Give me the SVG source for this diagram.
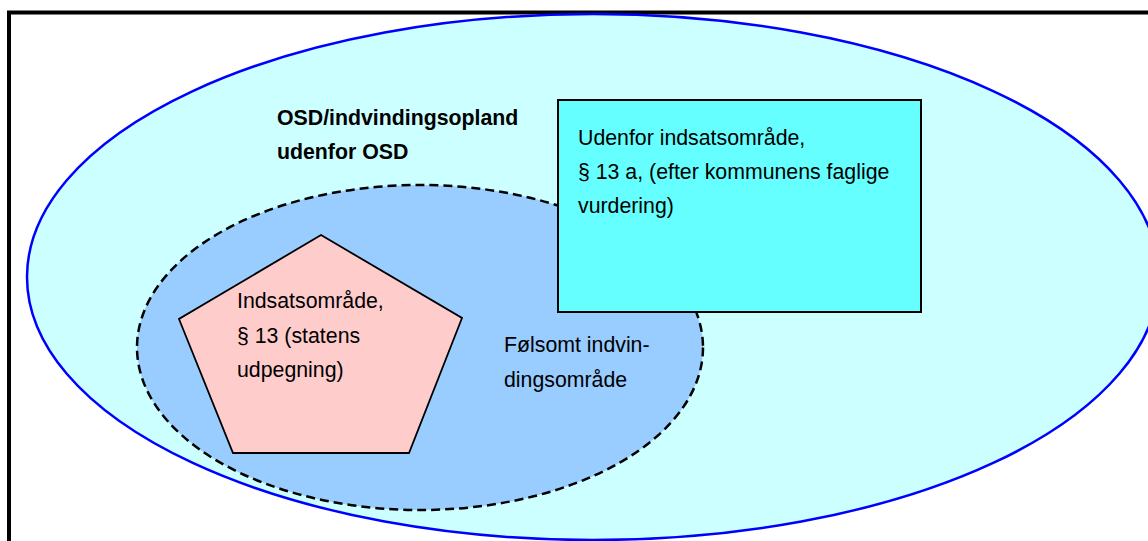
<svg xmlns="http://www.w3.org/2000/svg" width="1148" height="541" viewBox="0 0 1148 541">
<style>
text{font-family:"Liberation Sans",Arial,sans-serif;font-size:21.3px;fill:#000}
.b{font-weight:bold}
</style>
<rect width="1148" height="541" fill="#fff"/>
<rect id="frame" x="9" y="12.5" width="1160" height="560" fill="none" stroke="#000" stroke-width="4"/>
<g id="osd">
<ellipse cx="593" cy="277" rx="566" ry="263" fill="#CCFFFF" stroke="#0000FF" stroke-width="2.5"/>
<text class="b" x="277" y="125">OSD/indvindingsopland</text>
<text class="b" x="277" y="159">udenfor OSD</text>
</g>
<g id="foelsomt">
<ellipse cx="420" cy="347.5" rx="283" ry="162.5" fill="#99CCFF" stroke="#000" stroke-width="2.5" stroke-dasharray="9 5"/>
<text x="504" y="352">Følsomt indvin-</text>
<text x="504" y="387">dingsområde</text>
</g>
<g id="indsats">
<polygon points="321,235 462,318 409,453 233,453 179,319" fill="#FFCCCC" stroke="#000" stroke-width="1.8"/>
<text x="237" y="308">Indsatsområde,</text>
<text x="237" y="343">§ 13 (statens</text>
<text x="237" y="377">udpegning)</text>
</g>
<g id="udenfor">
<rect x="558" y="100" width="363" height="212" fill="#66FFFF" stroke="#000" stroke-width="2"/>
<text x="578" y="145">Udenfor indsatsområde,</text>
<text x="578" y="179">§ 13 a, (efter kommunens faglige</text>
<text x="578" y="213">vurdering)</text>
</g>
<g id="connectors"/>
</svg>
